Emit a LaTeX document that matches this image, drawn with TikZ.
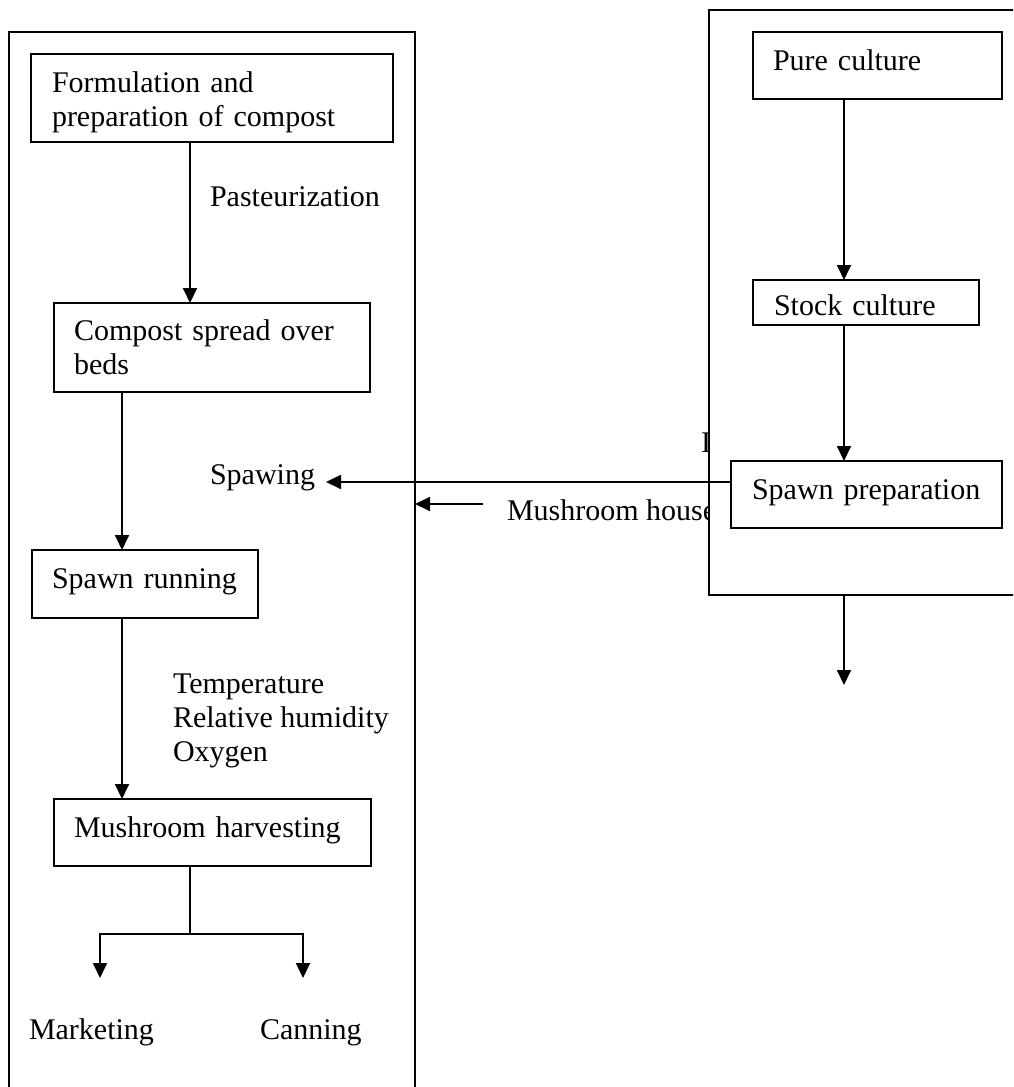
\documentclass[tikz,border=0pt]{standalone}
\usepackage{fontspec}
\setmainfont{Liberation Serif}
\usetikzlibrary{arrows.meta}
\tikzset{
  fnt/.style={font=\fontsize{30}{34.5}\selectfont},
  box/.style={draw, line width=1.8pt, fnt, anchor=north west, inner xsep=0pt, inner ysep=0pt, outer sep=0pt, align=left},
  panel/.style={draw, line width=1.8pt, anchor=north west, inner sep=0pt, outer sep=0pt},
  lbl/.style={fnt, anchor=base west, inner sep=0pt, outer sep=0pt},
  conn/.style={line width=1.8pt},
  arr/.style={conn, -{Triangle[length=15pt,width=14pt]}},
}
\begin{document}
\begin{tikzpicture}[x=1pt,y=-1pt]
\useasboundingbox (0,0) rectangle (1013,1087);
\clip (0,0) rectangle (1013,1087);

% panels
\node[panel, minimum width=406pt, minimum height=1080pt] (lp) at (9,32) {};
\node[panel, minimum width=330pt, minimum height=585pt] (rp) at (709,10) {};

% text partly hidden by the right panel
\begin{scope}
  \clip (0,0) rectangle (708,1087);
  \node[lbl] (mh) at (507,520) {Mushroom house};
  \node[lbl] (frag) at (701,452) {I};
\end{scope}

% left column boxes
\node[box, text width=362pt, minimum height=88pt, text height=21pt, text depth=33pt] (form) at (31,54)
  {\hspace*{21pt}Formulation and\\\hspace*{21pt}preparation of compost};
\node[box, text width=316pt, minimum height=89pt, text height=21pt, text depth=36pt] (comp) at (54,303)
  {\hspace*{20pt}Compost spread over\\\hspace*{20pt}beds};
\node[box, text width=226pt, minimum height=68pt, text height=21pt, text depth=13pt] (run) at (32,550)
  {\hspace*{20pt}Spawn running};
\node[box, text width=317pt, minimum height=67pt, text height=21pt, text depth=12pt] (harv) at (54,799)
  {\hspace*{20pt}Mushroom harvesting};

% right column boxes
\node[box, text width=249pt, minimum height=67pt, text height=21pt, text depth=12pt] (pure) at (753,32)
  {\hspace*{20pt}Pure culture};
\node[box, text width=226pt, minimum height=45pt, text height=30pt, text depth=5pt] (stock) at (753,280)
  {\hspace*{21pt}Stock culture};
\node[box, text width=271pt, minimum height=67pt, text height=21pt, text depth=12pt] (prep) at (731,461)
  {\hspace*{21pt}Spawn preparation};

% labels
\node[lbl] (past) at (210,206) {Pasteurization};
\node[lbl] (spaw) at (210,484) {Spawing};
\node[lbl] (c1) at (173,693) {Temperature};
\node[lbl] (c2) at (173,727) {Relative humidity};
\node[lbl] (c3) at (173,761) {Oxygen};
\node[lbl] (mkt) at (29,1039) {Marketing};
\node[lbl] (can) at (260,1039) {Canning};

% coordinates for free ends
\coordinate (spawtip) at (326,482);
\coordinate (mhs) at (483,504);
\coordinate (bj) at (190,934);
\coordinate (mk) at (100,978);
\coordinate (cn) at (303,978);
\coordinate (rpend) at (844,685);

% left column connectors
\draw[arr] ([xshift=159pt]form.south west) -- ([xshift=136pt]comp.north west);
\draw[arr] ([xshift=68pt]comp.south west) -- ([xshift=90pt]run.north west);
\draw[arr] ([xshift=90pt]run.south west) -- ([xshift=68pt]harv.north west);
\draw[conn] ([xshift=136pt]harv.south west) -- (bj);
\draw[arr] (bj) -| (mk);
\draw[arr] (bj) -| (cn);

% right column connectors
\draw[arr] ([xshift=91pt]pure.south west) -- ([xshift=91pt]stock.north west);
\draw[arr] ([xshift=91pt]stock.south west) -- ([xshift=113pt]prep.north west);
\draw[arr] ([xshift=135pt]rp.south west) -- (rpend);

% cross connectors
\draw[arr] ([yshift=-21pt]prep.north west) -- (spawtip);
\draw[arr] (mhs) -- (mhs -| lp.east);
\end{tikzpicture}
\end{document}
